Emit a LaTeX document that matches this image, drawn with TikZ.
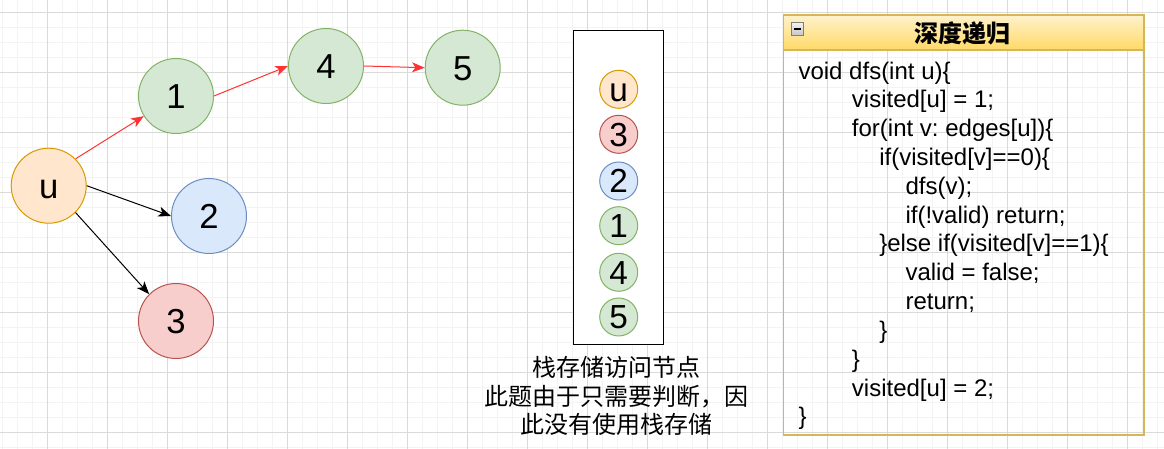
\documentclass[tikz,border=0pt]{standalone}
\usepackage{fontspec}
\setmainfont{Liberation Sans}
\newfontfamily\cjk{Noto Sans CJK SC}
\usetikzlibrary{arrows.meta}
\frenchspacing
\definecolor{gridmajor}{HTML}{DADADA}
\definecolor{gridminor}{HTML}{F3F3F3}
\definecolor{orfill}{HTML}{FFE6CC}
\definecolor{orline}{HTML}{D79B00}
\definecolor{grfill}{HTML}{D5E8D4}
\definecolor{grline}{HTML}{82B366}
\definecolor{blfill}{HTML}{DAE8FC}
\definecolor{blline}{HTML}{6C8EBF}
\definecolor{rdfill}{HTML}{F8CECC}
\definecolor{rdline}{HTML}{B85450}
\definecolor{hdtop}{HTML}{FFF2CC}
\definecolor{hdbot}{HTML}{FFD966}
\definecolor{hdline}{HTML}{D6B656}
\definecolor{edgered}{HTML}{FF3333}
\tikzset{
  bignode/.style={circle, minimum size=56.25pt, inner sep=0pt, line width=0.75pt,
     font=\fontsize{26}{30}\selectfont, text height=18.6pt, text depth=0pt},
  smallnode/.style={circle, minimum size=28.5pt, inner sep=0pt, line width=0.75pt,
     font=\fontsize{25}{30}\selectfont, text height=17.9pt, text depth=0pt},
  orangec/.style={draw=orline, fill=orfill},
  greenc/.style={draw=grline, fill=grfill},
  bluec/.style={draw=blline, fill=blfill},
  redc/.style={draw=rdline, fill=rdfill},
  redarrow/.style={draw=edgered, line width=0.75pt, -{Stealth[length=9.5pt,width=7.5pt,inset=2.5pt]}},
  blackarrow/.style={draw=black, line width=0.75pt, -{Stealth[length=9.5pt,width=7.5pt,inset=2.5pt]}},
  codeline/.style={anchor=base west, inner sep=0pt, font=\fontsize{18}{21.6}\selectfont},
}
\begin{document}
\begin{tikzpicture}[x=0.75pt,y=-0.75pt]
\useasboundingbox (0,0) rectangle (1164,449);
\fill[white] (0,0) rectangle (1164,449);
% grid
\foreach \k in {0,...,77} \draw[gridminor, line width=0.9pt] ({2.5+15*\k},0) -- ({2.5+15*\k},449);
\foreach \k in {0,...,29} \draw[gridminor, line width=0.9pt] (0,{12.5+15*\k}) -- (1164,{12.5+15*\k});
\foreach \k in {0,...,18} \draw[gridmajor, line width=0.75pt] ({47.5+60*\k},0) -- ({47.5+60*\k},449);
\foreach \k in {0,...,7} \draw[gridmajor, line width=0.75pt] (0,{12.5+60*\k}) -- (1164,{12.5+60*\k});

% graph
\node[bignode, orangec] (u) at (48.7,185.7) {u};
\node[bignode, greenc] (n1) at (176,96) {1};
\node[bignode, greenc] (n4) at (326,66) {4};
\node[bignode, greenc] (n5) at (462.7,67.7) {5};
\node[bignode, bluec] (n2) at (209,216) {2};
\node[bignode, redc] (n3) at (176,321) {3};
\draw[redarrow] (u.north east) -- (n1);
\draw[redarrow] (n1.east) -- (n4.west);
\draw[redarrow] (n4.east) -- (n5.west);
\draw[blackarrow] (u.east) -- (n2.west);
\draw[blackarrow] (u.south east) -- (n3.north west);

% stack
\node[draw=black, line width=1pt, fill=white, minimum width=67.5pt, minimum height=235.8pt, inner sep=0pt] (stack) at (618.7,187.5) {};
\node[smallnode, orangec] (su) at (618.7,89.3) {u};
\node[smallnode, redc] (s3) at (618.7,134.3) {3};
\node[smallnode, bluec] (s2) at (618.7,181) {2};
\node[smallnode, greenc] (s1) at (618.7,225.7) {1};
\node[smallnode, greenc] (s4) at (618.7,272.3) {4};
\node[smallnode, greenc] (s5) at (618.7,317) {5};
\node[align=center, inner sep=0pt, font=\cjk\fontsize{18}{21.6}\selectfont] (caption) at (616.7,396) {栈存储访问节点\\此题由于只需要判断，因\\此没有使用栈存储};

% code box
\shade[top color=hdtop, bottom color=hdbot] (783.3,15) rectangle (1144,50);
\draw[hdline, line width=1.2pt] (783.3,15) rectangle (1144,435);
\draw[hdline, line width=1.2pt] (783.3,50) -- (1144,50);
\node[inner sep=0pt, font=\cjk\bfseries\fontsize{18}{21.6}\selectfont] (title) at (962.7,33.6) {深度递归};
\node[draw=gray, line width=0.6pt, top color=gray!10, bottom color=gray!45, minimum size=9.5pt, inner sep=0pt] (minus) at (797.5,29) {};
\draw[black, line width=1pt] ([xshift=-2.6pt]minus.center) -- ([xshift=2.6pt]minus.center);

\node[codeline] (c1) at (798.3,79.2) {void dfs(int u)\{};
\node[codeline] (c2) at (851.7,108.0) {visited[u] = 1;};
\node[codeline] (c3) at (851.7,136.8) {for(int v: edges[u])\{};
\node[codeline] (c4) at (879,165.6) {if(visited[v]==0)\{};
\node[codeline] (c5) at (905.3,194.4) {dfs(v);};
\node[codeline] (c6) at (905.3,223.2) {if(!valid) return;};
\node[codeline] (c7) at (879,252.0) {\}else if(visited[v]==1)\{};
\node[codeline] (c8) at (905.3,280.8) {valid = false;};
\node[codeline] (c9) at (905.3,309.6) {return;};
\node[codeline] (c10) at (879,338.4) {\}};
\node[codeline] (c11) at (851.7,367.2) {\}};
\node[codeline] (c12) at (851.7,396.0) {visited[u] = 2;};
\node[codeline] (c13) at (798.3,424.8) {\}};
\end{tikzpicture}
\end{document}
